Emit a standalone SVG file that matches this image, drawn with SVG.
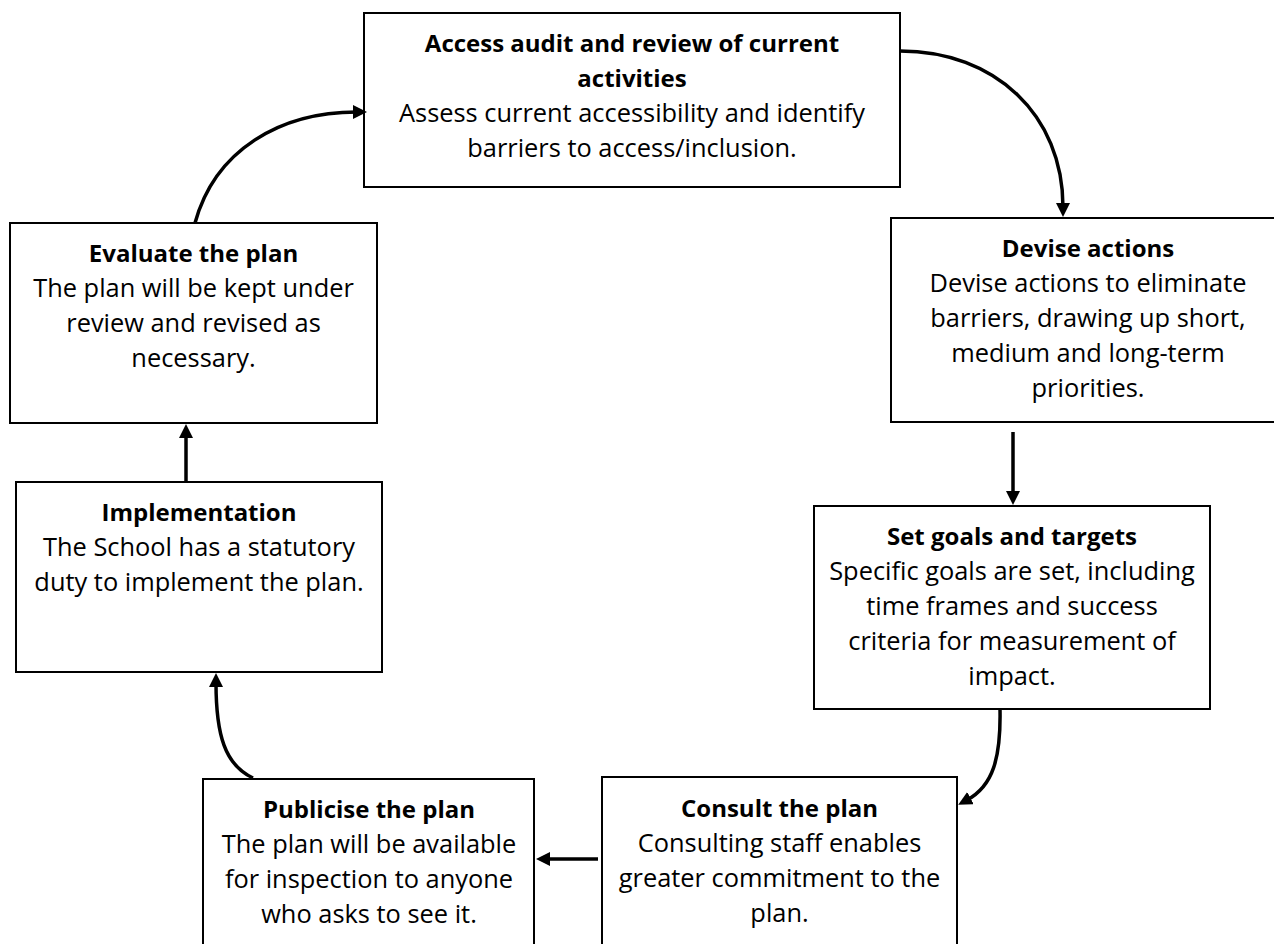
<svg xmlns="http://www.w3.org/2000/svg" width="1274" height="944" viewBox="0 0 1274 944">
  <style>
    .box { fill: #ffffff; stroke: #000000; stroke-width: 2; }
    .t { font-family: "Open Sans", "Liberation Sans", sans-serif; font-size: 25.4px; fill: #000000; text-anchor: middle; font-variant-ligatures: none; }
    .b { font-weight: bold; font-size: 24px; }
    .conn { fill: none; stroke: #000000; stroke-width: 3.5; }
  </style>
  <defs>
    <marker id="arr" markerUnits="userSpaceOnUse" markerWidth="16" markerHeight="16" refX="4" refY="7" orient="auto">
      <path d="M0,0 L14,7 L0,14 z" fill="#000000"/>
    </marker>
  </defs>
  <rect width="1274" height="944" fill="#ffffff"/>

  <g id="node-access">
    <rect class="box" x="364" y="13" width="536" height="174"/>
    <text class="t b" x="632" y="52">Access audit and review of current</text>
    <text class="t b" x="632" y="87">activities</text>
    <text class="t" x="632" y="122">Assess current accessibility and identify</text>
    <text class="t" x="632" y="157">barriers to access/inclusion.</text>
  </g>

  <g id="node-devise">
    <rect class="box" x="891" y="218" width="400" height="204"/>
    <text class="t b" x="1088" y="257">Devise actions</text>
    <text class="t" x="1088" y="292">Devise actions to eliminate</text>
    <text class="t" x="1088" y="327">barriers, drawing up short,</text>
    <text class="t" x="1088" y="362">medium and long-term</text>
    <text class="t" x="1088" y="397">priorities.</text>
  </g>

  <g id="node-goals">
    <rect class="box" x="814" y="506" width="396" height="203"/>
    <text class="t b" x="1012" y="545">Set goals and targets</text>
    <text class="t" x="1012" y="580">Specific goals are set, including</text>
    <text class="t" x="1012" y="615">time frames and success</text>
    <text class="t" x="1012" y="650">criteria for measurement of</text>
    <text class="t" x="1012" y="685">impact.</text>
  </g>

  <g id="node-consult">
    <rect class="box" x="602" y="777" width="355" height="180"/>
    <text class="t b" x="779.5" y="817">Consult the plan</text>
    <text class="t" x="779.5" y="852">Consulting staff enables</text>
    <text class="t" x="779.5" y="887">greater commitment to the</text>
    <text class="t" x="779.5" y="922">plan.</text>
  </g>

  <g id="node-publicise">
    <rect class="box" x="203" y="779" width="331" height="180"/>
    <text class="t b" x="369" y="818">Publicise the plan</text>
    <text class="t" x="369" y="853">The plan will be available</text>
    <text class="t" x="369" y="888">for inspection to anyone</text>
    <text class="t" x="369" y="923">who asks to see it.</text>
  </g>

  <g id="node-implementation">
    <rect class="box" x="16" y="482" width="366" height="190"/>
    <text class="t b" x="199" y="521">Implementation</text>
    <text class="t" x="199" y="556">The School has a statutory</text>
    <text class="t" x="199" y="591">duty to implement the plan.</text>
  </g>

  <g id="node-evaluate">
    <rect class="box" x="10" y="223" width="367" height="200"/>
    <text class="t b" x="193.5" y="262">Evaluate the plan</text>
    <text class="t" x="193.5" y="297">The plan will be kept under</text>
    <text class="t" x="193.5" y="332">review and revised as</text>
    <text class="t" x="193.5" y="367">necessary.</text>
  </g>

  <g id="connectors">
    <path class="conn" marker-end="url(#arr)" d="M900,51 C995,51 1063,115 1063,207"/>
    <path class="conn" marker-end="url(#arr)" d="M1013,432 L1013,495"/>
    <path class="conn" marker-end="url(#arr)" d="M1000,709 C1001,758 993,786 967,800"/>
    <path class="conn" marker-end="url(#arr)" d="M598,859 L546,859"/>
    <path class="conn" marker-end="url(#arr)" d="M253,778 C225,765 216,735 216,683"/>
    <path class="conn" marker-end="url(#arr)" d="M186,482 L186,434"/>
    <path class="conn" marker-end="url(#arr)" d="M195,223 C215,150 280,112 357,112"/>
  </g>
</svg>
